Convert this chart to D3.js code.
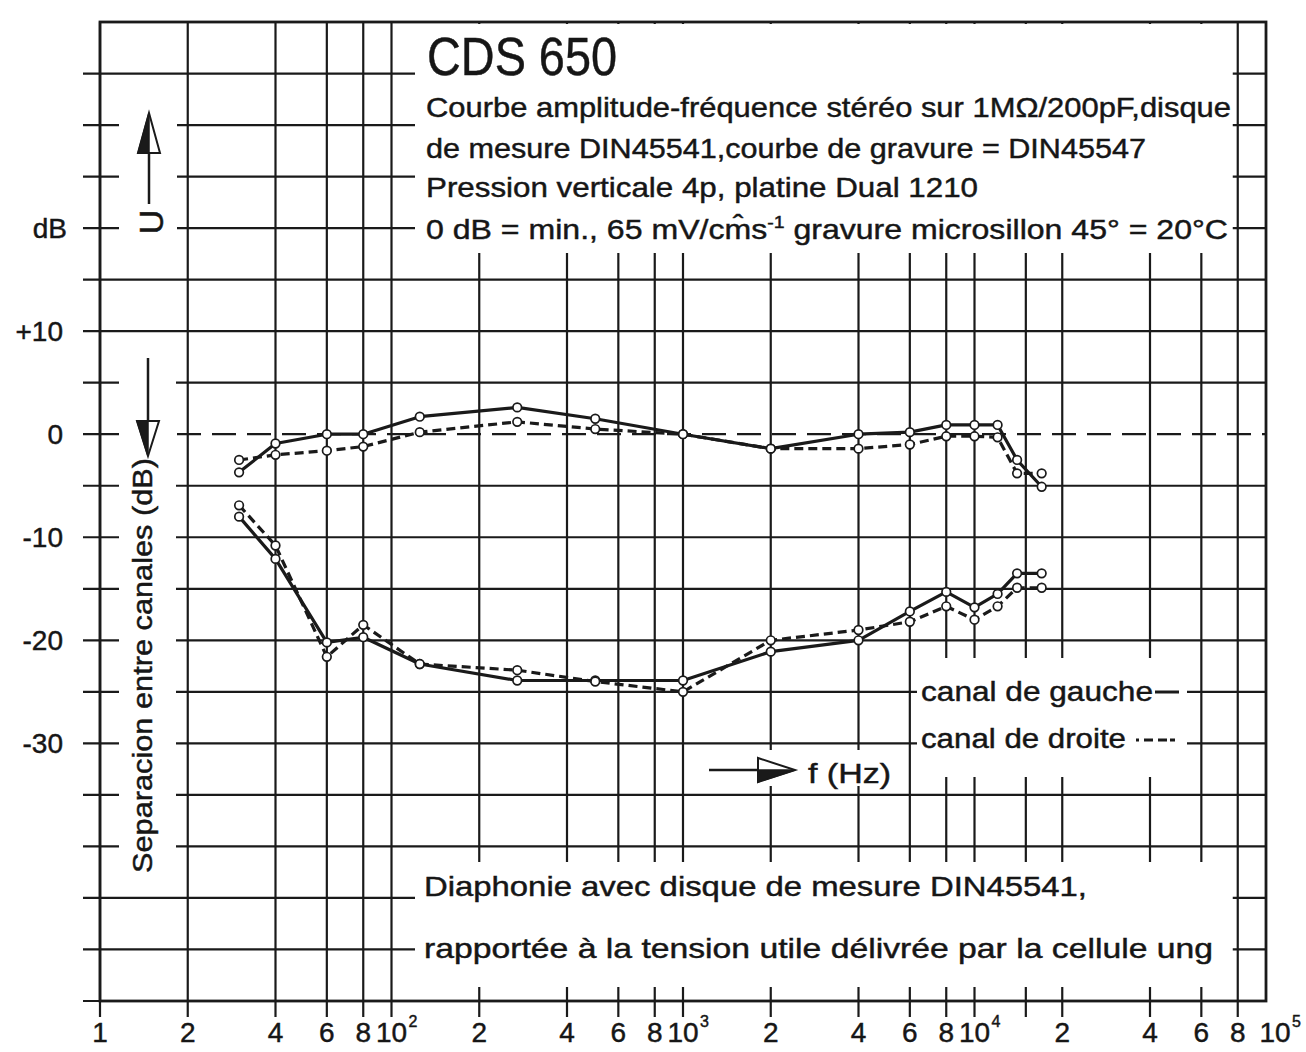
<!DOCTYPE html>
<html>
<head>
<meta charset="utf-8">
<script src="https://cdn.jsdelivr.net/npm/d3@7/dist/d3.min.js"></script>
<style>
  body { margin: 0; background: #fff; }
  text { font-family: "Liberation Sans", Arial, sans-serif; fill: #161616; stroke: #161616; stroke-width: 0.45px; }
</style>
</head>
<body>
<script>
'use strict';

// fréquences de mesure (Hz)
const frequences = [30, 40, 60, 80, 125, 270, 500, 1000, 2000, 4000, 6000, 8000, 10000, 12000, 14000, 17000];

// courbe amplitude-fréquence (dB)
const reponseGauche = [-3.7, -0.9, 0, 0, 1.7, 2.6, 1.5, 0, -1.4, 0, 0.2, 0.9, 0.9, 0.9, -2.5, -5.1];
const reponseDroite = [-2.5, -2.0, -1.6, -1.2, 0.2, 1.2, 0.5, 0, -1.4, -1.4, -1.0, -0.2, -0.2, -0.3, -3.8, -3.8];

// diaphonie (dB)
const diaphonieGauche = [-8.0, -12.1, -20.2, -19.7, -22.3, -23.9, -23.9, -23.9, -21.1, -20.0, -17.2, -15.3, -16.8, -15.5, -13.5, -13.5];
const diaphonieDroite = [-6.9, -10.8, -21.6, -18.5, -22.3, -22.9, -24.0, -25.0, -20.0, -19.0, -18.2, -16.7, -18.0, -16.7, -14.9, -14.9];

// lignes de la grille
const grilleX = [20, 40, 60, 80, 100, 200, 400, 600, 800, 1000, 2000, 4000, 6000, 8000, 10000, 15000, 20000, 40000, 60000, 80000];
const grilleY = [35, 30, 25, 20, 15, 10, 5, -5, -10, -15, -20, -25, -30, -35, -40, -45, -50, -55];

// graduations
const ticksX = [10, 20, 40, 60, 80, 100, 200, 400, 600, 800, 1000, 2000, 4000, 6000, 8000, 10000, 20000, 40000, 60000, 80000, 100000];
const labelsX = ['1', '2', '4', '6', '8', '10', '2', '4', '6', '8', '10', '2', '4', '6', '8', '10', '2', '4', '6', '8', '10'];
const exposantsX = ['', '', '', '', '', '2', '', '', '', '', '3', '', '', '', '', '4', '', '', '', '', '5'];
const ticksY = [10, 0, -10, -20, -30];
const labelsY = ['+10', '0', '-10', '-20', '-30'];

const encre = '#1a1a1a';

// création du canevas
const canevas = d3.select("body").append("svg")
  .attr("width", 1306)
  .attr("height", 1052);

canevas.append("rect")
  .attr("width", 1306).attr("height", 1052)
  .style("fill", "#fff");

// échelles
const x = d3.scaleLog()
  .domain([10, 100000])
  .range([100, 1266]);

const y = d3.scaleLinear()
  .domain([-55, 40])
  .range([1001, 22]);

// grille horizontale
canevas.append("g").selectAll("line")
  .data(grilleY)
  .enter()
  .append("line")
    .attr("x1", 83).attr("x2", x(100000))
    .attr("y1", d => y(d)).attr("y2", d => y(d))
    .style("stroke", encre).style("stroke-width", 2.2);

// ligne 0 dB : amorce pleine puis tirets
canevas.append("line")
  .attr("x1", 83).attr("x2", 119)
  .attr("y1", y(0)).attr("y2", y(0))
  .style("stroke", encre).style("stroke-width", 2.2);
canevas.append("line")
  .attr("x1", 177).attr("x2", x(100000))
  .attr("y1", y(0)).attr("y2", y(0))
  .style("stroke", encre).style("stroke-width", 2.2)
  .style("stroke-dasharray", "24,11");

// grille verticale (dépasse sous l'axe)
canevas.append("g").selectAll("line")
  .data([10].concat(grilleX))
  .enter()
  .append("line")
    .attr("x1", d => x(d)).attr("x2", d => x(d))
    .attr("y1", y(40)).attr("y2", y(-55) + 16)
    .style("stroke", encre).style("stroke-width", 2.2);

// zones blanches pour les textes
const x8 = x(80000) - 5;
const zones = [
  [415, 24, x8, 253],
  [415, 862, x8, 987],
  [917, 658, 1187, 777],
  [700, 750, 897, 786],
  [119, 95, 177, 245],
  [119, 355, 176, 872]
];
canevas.append("g").selectAll("rect")
  .data(zones)
  .enter()
  .append("rect")
    .attr("x", d => d[0]).attr("y", d => d[1])
    .attr("width", d => d[2] - d[0]).attr("height", d => d[3] - d[1])
    .style("fill", "#fff");

// cadre
canevas.append("rect")
  .attr("x", x(10)).attr("y", y(40))
  .attr("width", x(100000) - x(10))
  .attr("height", y(-55) - y(40))
  .style("fill", "none")
  .style("stroke", encre).style("stroke-width", 2.8);

// courbes
const ligne = d3.line()
  .x(d => x(d.f))
  .y(d => y(d.v));

const series = [
  {valeurs: reponseGauche, tirets: null},
  {valeurs: reponseDroite, tirets: "9,5"},
  {valeurs: diaphonieGauche, tirets: null},
  {valeurs: diaphonieDroite, tirets: "9,5"}
];

series.forEach(function(s) {
  const points = frequences.map((f, i) => ({f: f, v: s.valeurs[i]}));
  canevas.append("path")
    .datum(points)
    .attr("d", ligne)
    .style("fill", "none")
    .style("stroke", encre)
    .style("stroke-width", 3.2)
    .style("stroke-linejoin", "round")
    .style("stroke-dasharray", s.tirets);
  canevas.append("g").selectAll("circle")
    .data(points)
    .enter()
    .append("circle")
      .attr("cx", d => x(d.f))
      .attr("cy", d => y(d.v))
      .attr("r", 4.3)
      .style("fill", "#fff")
      .style("stroke", encre)
      .style("stroke-width", 1.7);
});

// graduations de l'axe des X
const gx = canevas.append("g");
ticksX.forEach(function(f, i) {
  const decal = (f === 100000) ? 9 : 0;
  gx.append("text")
    .attr("x", x(f) + decal).attr("y", 1042)
    .attr("text-anchor", "middle")
    .style("font-size", "28px")
    .text(labelsX[i]);
  if (exposantsX[i]) {
    gx.append("text")
      .attr("x", x(f) + decal + 17).attr("y", 1027)
      .style("font-size", "16px")
      .text(exposantsX[i]);
  }
});

// graduations de l'axe des Y
canevas.append("g").selectAll("text")
  .data(ticksY)
  .enter()
  .append("text")
    .attr("x", 63)
    .attr("y", d => y(d) + 10)
    .attr("text-anchor", "end")
    .style("font-size", "28px")
    .text((d, i) => labelsY[i]);

canevas.append("text")
  .attr("x", 67).attr("y", y(20) + 10)
  .attr("text-anchor", "end")
  .style("font-size", "28px")
  .text("dB");

// flèche demi-pleine
function fleche(pointe, base1, base2, milieu) {
  const g = canevas.append("g");
  g.append("path")
    .attr("d", "M" + pointe + "L" + base1 + "L" + base2 + "Z")
    .style("fill", "#fff").style("stroke", encre).style("stroke-width", 2);
  g.append("path")
    .attr("d", "M" + pointe + "L" + base1 + "L" + milieu + "Z")
    .style("fill", encre).style("stroke", encre).style("stroke-width", 1.5);
}

// U vers le haut
canevas.append("line")
  .attr("x1", 149).attr("x2", 149).attr("y1", 204).attr("y2", 150)
  .style("stroke", encre).style("stroke-width", 2.5);
fleche([149, 113], [138, 153], [160, 153], [149, 153]);
canevas.append("text")
  .attr("transform", "translate(163,222) rotate(-90)")
  .attr("text-anchor", "middle")
  .style("font-size", "34px")
  .text("U");

// séparation vers le bas
canevas.append("line")
  .attr("x1", 148).attr("x2", 148).attr("y1", 358).attr("y2", 424)
  .style("stroke", encre).style("stroke-width", 2.5);
fleche([148, 456], [137, 421], [159, 421], [148, 421]);
canevas.append("text")
  .attr("transform", "translate(152,873) rotate(-90)")
  .attr("textLength", 415)
  .attr("lengthAdjust", "spacingAndGlyphs")
  .style("font-size", "27px")
  .text("Separacion entre canales (dB)");

// f (Hz)
canevas.append("line")
  .attr("x1", 709).attr("x2", 760).attr("y1", 770).attr("y2", 770)
  .style("stroke", encre).style("stroke-width", 2.5);
fleche([795, 770], [758, 782], [758, 758], [758, 770]);
canevas.append("text")
  .attr("x", 808).attr("y", 783)
  .attr("textLength", 83)
  .attr("lengthAdjust", "spacingAndGlyphs")
  .style("font-size", "27px")
  .text("f (Hz)");

// titre et textes
function texte(t, xx, yy, taille, longueur) {
  return canevas.append("text")
    .attr("x", xx).attr("y", yy)
    .attr("textLength", longueur)
    .attr("lengthAdjust", "spacingAndGlyphs")
    .style("font-size", taille + "px")
    .text(t);
}

texte("CDS 650", 427, 75, 53, 190);
texte("Courbe amplitude-fréquence stéréo sur 1MΩ/200pF,disque", 426, 117, 28, 805);
texte("de mesure DIN45541,courbe de gravure = DIN45547", 426, 158, 28, 720);
texte("Pression verticale 4p, platine Dual 1210", 426, 197, 28, 552);

const l4 = canevas.append("text")
  .attr("x", 426).attr("y", 239)
  .attr("textLength", 802)
  .attr("lengthAdjust", "spacingAndGlyphs")
  .style("font-size", "28px");
l4.append("tspan").text("0 dB = min., 65 mV/cm\u0302s");
l4.append("tspan").attr("dy", -11).style("font-size", "17px").text("-1");
l4.append("tspan").attr("dy", 11).text(" gravure microsillon 45° = 20°C");

texte("Diaphonie avec disque de mesure DIN45541,", 424, 896, 28, 663);
texte("rapportée à la tension utile délivrée par la cellule ung", 424, 958, 28, 789);

// légende
texte("canal de gauche", 921, 701, 27, 232);
texte("canal de droite", 921, 748, 27, 205);
canevas.append("line")
  .attr("x1", 1155).attr("x2", 1179).attr("y1", 692).attr("y2", 692)
  .style("stroke", encre).style("stroke-width", 3);
canevas.append("line")
  .attr("x1", 1136).attr("x2", 1181).attr("y1", 740).attr("y2", 740)
  .style("stroke", encre).style("stroke-width", 3)
  .style("stroke-dasharray", "3,5,9,5,9");
</script>
</body>
</html>
